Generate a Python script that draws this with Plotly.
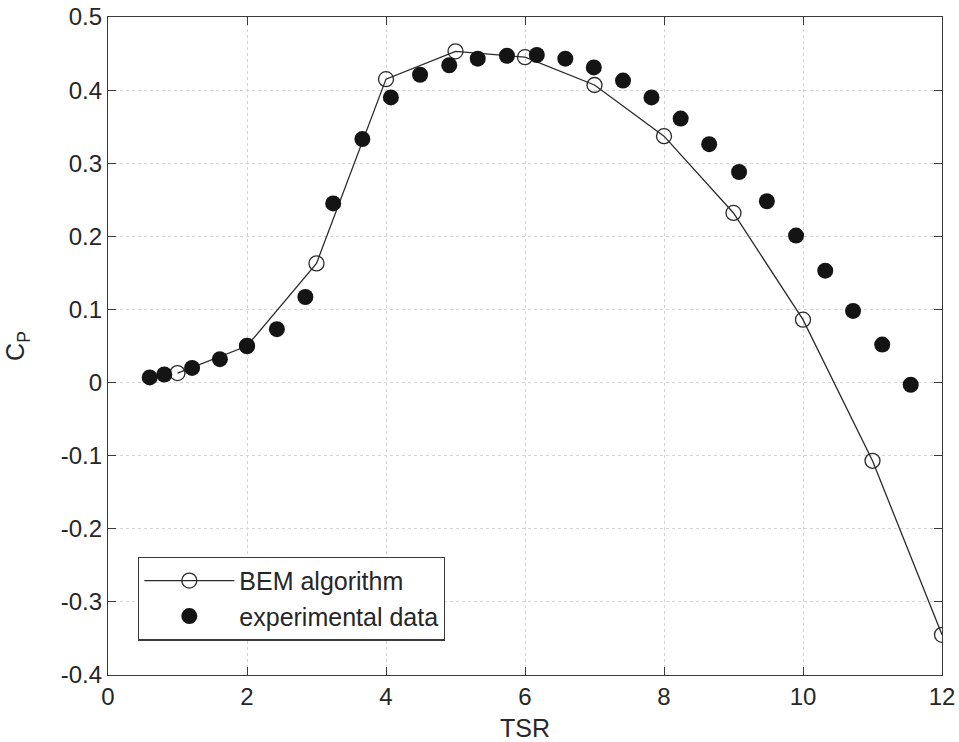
import plotly.graph_objects as go

# BEM algorithm (open circles + line)
bem_tsr = [1, 2, 3, 4, 5, 6, 7, 8, 9, 10, 11, 12]
bem_cp = [0.013, 0.050, 0.163, 0.415, 0.453, 0.445, 0.407, 0.337, 0.232, 0.086, -0.107, -0.345]

# Experimental data (filled circles)
exp_tsr = [0.60, 0.81, 1.21, 1.61, 2.00, 2.43, 2.84, 3.24, 3.66, 4.07, 4.49, 4.91,
           5.32, 5.74, 6.17, 6.58, 6.99, 7.41, 7.82, 8.24, 8.65, 9.08, 9.48, 9.90,
           10.32, 10.72, 11.14, 11.55]
exp_cp = [0.007, 0.011, 0.020, 0.032, 0.050, 0.073, 0.117, 0.245, 0.333, 0.390, 0.421, 0.434,
          0.443, 0.447, 0.448, 0.443, 0.431, 0.413, 0.390, 0.361, 0.326, 0.288, 0.248, 0.201,
          0.153, 0.098, 0.052, -0.003]

x_ticks = [0, 2, 4, 6, 8, 10, 12]
y_ticks = [-0.4, -0.3, -0.2, -0.1, 0, 0.1, 0.2, 0.3, 0.4, 0.5]
y_tick_labels = ["-0.4", "-0.3", "-0.2", "-0.1", "0", "0.1", "0.2", "0.3", "0.4", "0.5"]

FONT = "Liberation Sans, Arial, sans-serif"
INK = "#262626"

fig = go.Figure()
fig.add_trace(go.Scatter(
    x=bem_tsr, y=bem_cp, mode="lines+markers", name="BEM algorithm",
    line=dict(color="#2a2a2a", width=1.3),
    marker=dict(symbol="circle-open", size=15, color="#2a2a2a", line=dict(width=1.3)),
))
fig.add_trace(go.Scatter(
    x=exp_tsr, y=exp_cp, mode="markers", name="experimental data",
    marker=dict(symbol="circle", size=16, color="#141414", line=dict(width=0)),
))

axis_common = dict(
    showline=True, linecolor="#3a3a3a", linewidth=1.3, mirror="ticks",
    ticks="inside", ticklen=8, tickcolor="#3a3a3a", tickwidth=1.2,
    showgrid=True, gridcolor="#d4d4d4", griddash="dot", gridwidth=1,
    zeroline=False, automargin=False,
    tickfont=dict(family=FONT, size=24, color=INK),
)

fig.update_xaxes(
    range=[0, 12], tickvals=x_ticks, ticktext=[str(v) for v in x_ticks],
    title=dict(text="TSR", font=dict(family=FONT, size=25, color=INK), standoff=12),
    **axis_common,
)
fig.update_yaxes(
    range=[-0.4, 0.5], tickvals=y_ticks, ticktext=y_tick_labels,
    title=dict(text="C<sub>P</sub>", font=dict(family=FONT, size=25, color=INK), standoff=28),
    **axis_common,
)

fig.update_layout(
    width=959, height=742,
    margin=dict(l=108, r=17, t=17, b=67),
    paper_bgcolor="white", plot_bgcolor="white",
    showlegend=True,
    legend=dict(
        x=0.036, y=0.18, xanchor="left", yanchor="top",
        bgcolor="white", bordercolor="#3a3a3a", borderwidth=1.3,
        font=dict(family=FONT, size=25, color=INK),
        itemwidth=90, tracegroupgap=0,
    ),
)

fig.write_html("out.html")
